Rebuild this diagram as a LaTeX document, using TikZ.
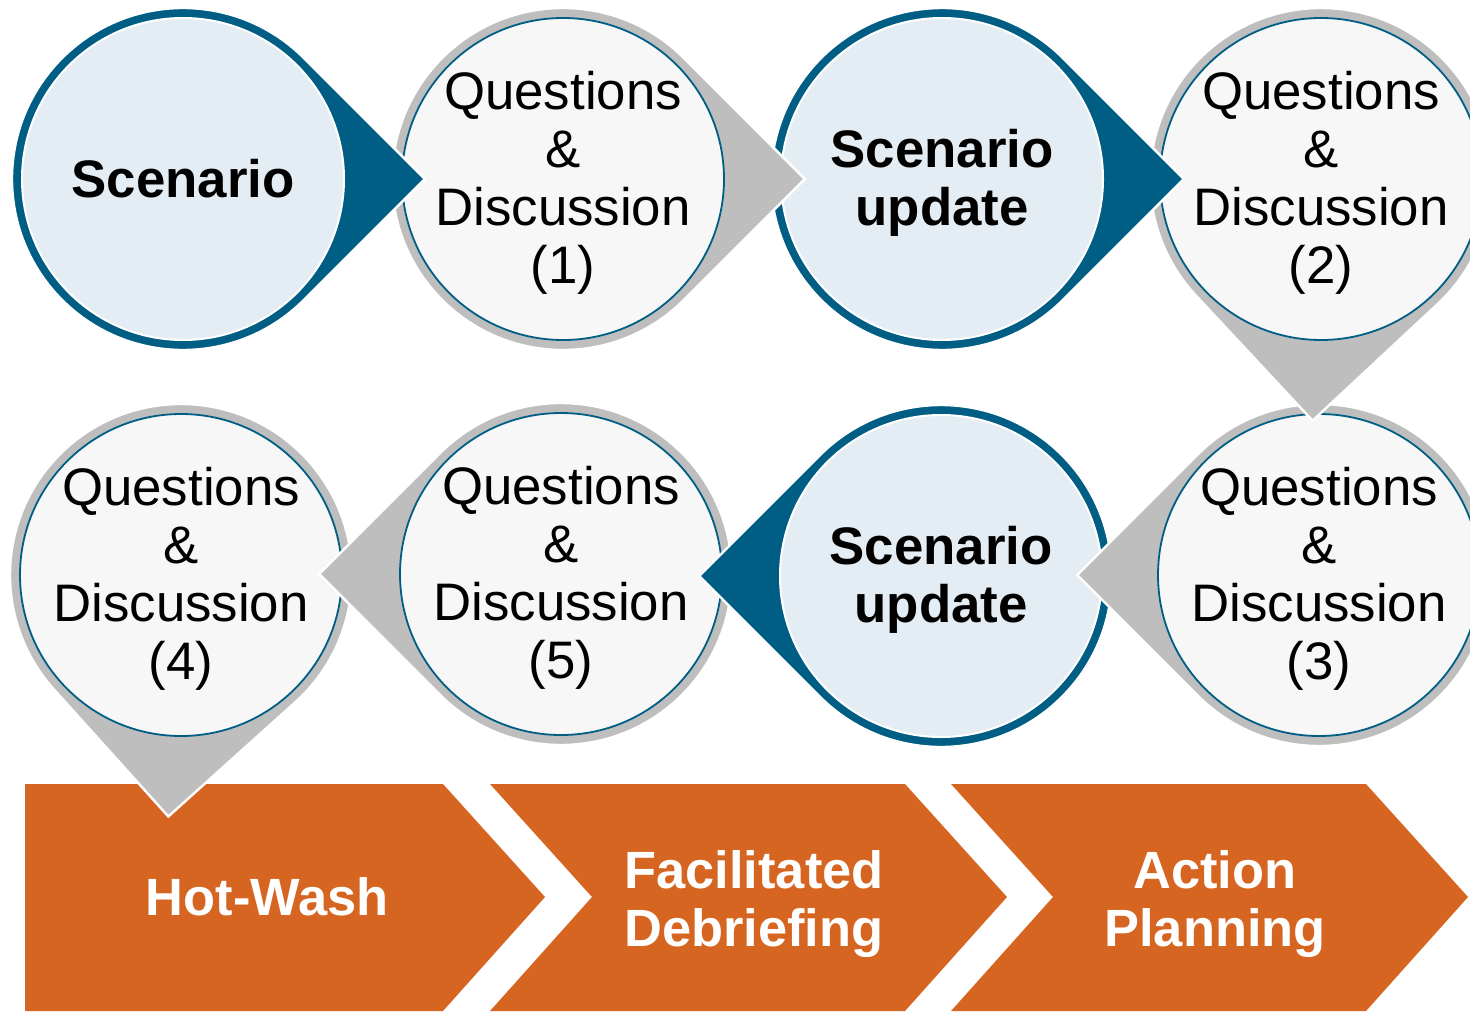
\documentclass[tikz,border=0pt]{standalone}
\usepackage{fontspec}
\setmainfont{Liberation Sans}
\usetikzlibrary{calc}

\definecolor{dropblue}{HTML}{005E85}
\definecolor{dropgray}{HTML}{BEBEBE}
\definecolor{paleblue}{HTML}{E4EDF3}
\definecolor{palegray}{HTML}{F7F7F7}
\definecolor{washorange}{HTML}{D76522}

\newcommand{\drop}[5]{%
  \filldraw[#4 drop] ($(#2)+(#3+45:171)$) arc[start angle=#3+45,end angle=#3+315,radius=171]
    -- ($(#2)+(#3:241.8)$) -- cycle;
  \filldraw[#4 disc] (#2) circle[radius=161];
  \node[#4 text] (#1) at (#2) {#5};
}

\begin{document}
\begin{tikzpicture}[x=0.5pt,y=0.5pt,
  scen drop/.style={fill=dropblue,draw=white,line width=1.2pt},
  quest drop/.style={fill=dropgray,draw=white,line width=1.2pt},
  upd drop/.style={scen drop},
  scen disc/.style={fill=paleblue,draw=white,line width=1pt},
  quest disc/.style={fill=palegray,draw=dropblue,line width=0.9pt},
  upd disc/.style={scen disc},
  scen text/.style={font=\fontsize{26.4}{29}\selectfont\bfseries,align=center,inner sep=0pt},
  upd text/.style={scen text,yshift=-2pt},
  quest text/.style={font=\fontsize{26.4}{29}\selectfont,align=center,inner sep=0pt,yshift=-2pt},
  phase/.style={font=\fontsize{26.2}{29}\selectfont\bfseries,text=white,align=center,inner sep=0pt},
  chevron/.style={fill=washorange}]
\useasboundingbox (0,0) rectangle (1470,-1011);
\clip (0,0) rectangle (1470,-1011);

\coordinate (p1) at (183,-179);
\coordinate (p2) at (563,-179);
\coordinate (p3) at (942,-179);
\coordinate (p4) at (1321,-179);
\coordinate (p5) at (1319,-575);
\coordinate (p6) at (941,-576);
\coordinate (p7) at (561,-574);
\coordinate (p8) at (181,-575);

\fill[chevron] (25,-784) -- (443,-784) -- (545,-897) -- (443,-1011) -- (25,-1011) -- cycle;
\foreach \dx in {462,923}
  \fill[chevron,xshift=\dx*0.5pt] (28,-784) -- (443,-784) -- (545,-897) -- (443,-1011)
    -- (28,-1011) -- (130,-897) -- cycle;
\node[phase] (hot) at (267,-897) {Hot-Wash};
\node[phase,yshift=-3.5pt] (debrief) at (754,-897) {Facilitated\\Debriefing};
\node[phase,yshift=-3.5pt] (action) at (1215,-897) {Action\\Planning};

\drop{qd4}{p8}{-93}{quest}{Questions\\\&\\Discussion\\(4)}
\drop{qd5}{p7}{180}{quest}{Questions\\\&\\Discussion\\(5)}
\drop{upd2}{p6}{180}{upd}{Scenario\\update}
\drop{qd3}{p5}{180}{quest}{Questions\\\&\\Discussion\\(3)}
\drop{qd2}{p4}{-92}{quest}{Questions\\\&\\Discussion\\(2)}
\drop{upd1}{p3}{0}{upd}{Scenario\\update}
\drop{qd1}{p2}{0}{quest}{Questions\\\&\\Discussion\\(1)}
\drop{scen}{p1}{0}{scen}{Scenario}
\end{tikzpicture}
\end{document}
